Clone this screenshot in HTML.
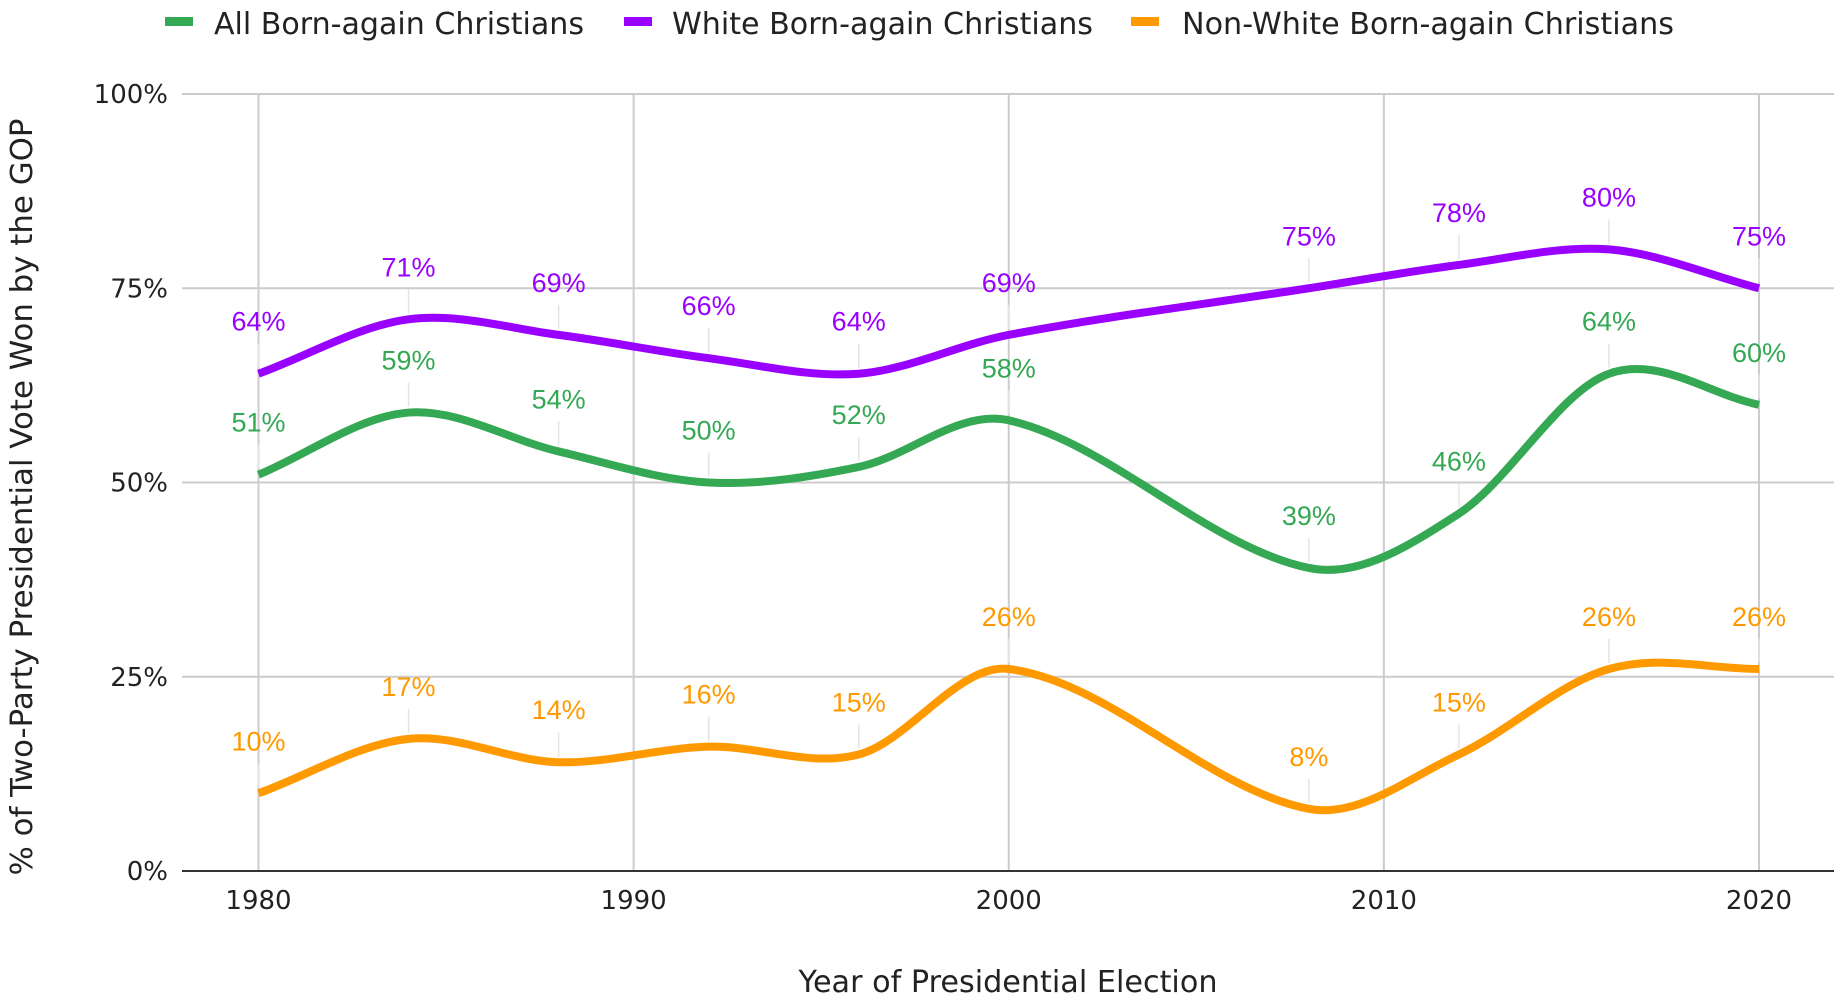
<!DOCTYPE html>
<html><head><meta charset="utf-8"><style>
html,body{margin:0;padding:0;background:#fff}
svg{display:block}
text{font-family:"DejaVu Sans","Liberation Sans",sans-serif}
.lbl{font-family:"Liberation Sans",sans-serif;font-size:27px;text-anchor:middle}
</style></head><body>
<svg id="chart" width="1842" height="1001" viewBox="0 0 1842 1001">
<g id="legend">
 <g><rect x="165" y="17" width="28" height="9" fill="#34a853"/><text x="214" y="34" font-size="30" textLength="370" lengthAdjust="spacingAndGlyphs" fill="#222">All Born-again Christians</text></g>
 <g><rect x="624" y="17" width="28" height="9" fill="#9900ff"/><text x="672" y="34" font-size="30" textLength="421" lengthAdjust="spacingAndGlyphs" fill="#222">White Born-again Christians</text></g>
 <g><rect x="1131" y="17" width="28" height="9" fill="#ff9900"/><text x="1182" y="34" font-size="30" textLength="492" lengthAdjust="spacingAndGlyphs" fill="#222">Non-White Born-again Christians</text></g>
</g>
<g id="grid"></g><g id="leaders"></g><g id="lines"></g><g id="labels"></g><g id="ticks"></g>
<text x="1008" y="992" font-size="30" text-anchor="middle" textLength="419" lengthAdjust="spacingAndGlyphs" fill="#222">Year of Presidential Election</text>
<text transform="translate(32,497) rotate(-90)" font-size="30" text-anchor="middle" textLength="757" lengthAdjust="spacingAndGlyphs" fill="#222">% of Two-Party Presidential Vote Won by the GOP</text>
</svg>
<script>
const years=[1980,1984,1988,1992,1996,2000,2008,2012,2016,2020];
const allBorn=[51,59,54,50,52,58,39,46,64,60];
const whiteBorn=[64,71,69,66,64,69,75,78,80,75];
const nonWhiteBorn=[10,17,14,16,15,26,8,15,26,26];
const yTicks=[0,25,50,75,100];
const xTicks=[1980,1990,2000,2010,2020];
const NS="http://www.w3.org/2000/svg";
const L=182,R=1834,T=94,B=871;
const x=v=>258.5+(v-1980)*(1759-258.5)/40;
const y=v=>B-(v/100)*(B-T);
function mk(tag,attrs,parent){const e=document.createElementNS(NS,tag);for(const k in attrs)e.setAttribute(k,attrs[k]);parent.appendChild(e);return e;}
const grid=document.getElementById('grid'),ticks=document.getElementById('ticks');
xTicks.forEach(t=>{
 const l=mk('line',{x1:x(t),x2:x(t),y1:T,y2:B,stroke:'#ccc','stroke-width':2},grid);
 
 
 const tx=mk('text',{x:x(t),y:909,'font-size':26,'text-anchor':'middle',fill:'#222'},ticks);
 tx.textContent=t;
 
 
});
yTicks.forEach(t=>{
 const l=mk('line',{x1:L,x2:R,y1:y(t),y2:y(t),stroke:t===0?'#333':'#ccc','stroke-width':2},grid);
 
 
 const tx=mk('text',{x:168,y:y(t)+9,'font-size':26,'text-anchor':'end',fill:'#222'},ticks);
 tx.textContent=t+'%';
 
 
});
function path(pts){
 const n=pts.length;
 const m=pts.map((p,i)=>{
  if(i===0)return (pts[1][1]-p[1])/(pts[1][0]-p[0]);
  if(i===n-1)return (p[1]-pts[i-1][1])/(p[0]-pts[i-1][0]);
  return (pts[i+1][1]-pts[i-1][1])/(pts[i+1][0]-pts[i-1][0]);
 });
 let d='M'+pts[0][0]+','+pts[0][1];
 for(let i=0;i<n-1;i++){
  const p1=pts[i],p2=pts[i+1],dx=(p2[0]-p1[0])/3;
  d+=' C'+(p1[0]+dx)+','+(p1[1]+m[i]*dx)+' '+(p2[0]-dx)+','+(p2[1]-m[i+1]*dx)+' '+p2[0]+','+p2[1];
 }
 return d;
}
const series=[['series-white',whiteBorn,'#9900ff'],['series-all',allBorn,'#34a853'],['series-nonwhite',nonWhiteBorn,'#ff9900']];
const lines=document.getElementById('lines'),labels=document.getElementById('labels'),leaders=document.getElementById('leaders');
series.forEach(([name,vals,col])=>{
 const pts=years.map((yr,i)=>[x(yr),y(vals[i])]);
 const p=mk('path',{d:path(pts),fill:'none',stroke:col,'stroke-width':8,'stroke-linecap':'butt','stroke-linejoin':'round'},lines);
 
 
 years.forEach((yr,i)=>{
  const ld=mk('line',{x1:x(yr),x2:x(yr),y1:y(vals[i])-30,y2:y(vals[i])-6,stroke:'#e4e4e4','stroke-width':1.5},leaders);
  
  
  const t=mk('text',{x:x(yr),y:y(vals[i])-43,fill:col,class:'lbl'},labels);
  t.textContent=vals[i]+'%';
  
  
 });
});
</script>
</body></html>
